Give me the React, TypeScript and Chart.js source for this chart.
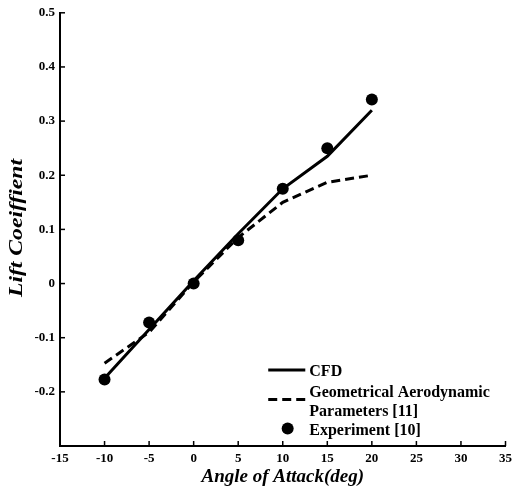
import React, { useEffect, useRef } from "react";
import { Chart, registerables } from "chart.js";
Chart.register(...registerables);

const angles = [-10, -5, 0, 5, 10, 15, 20];
const cfd = [-0.175, -0.085, 0.005, 0.092, 0.175, 0.235, 0.32];
const geometrical = [-0.147, -0.09, 0.003, 0.085, 0.15, 0.187, 0.2];
const experiment = [-0.177, -0.072, 0.0, 0.08, 0.175, 0.25, 0.34];
const xTicks = [-15, -10, -5, 0, 5, 10, 15, 20, 25, 30, 35];
const yTicks = [-0.2, -0.1, 0, 0.1, 0.2, 0.3, 0.4, 0.5];
const legendLabels = [["CFD"], ["Geometrical Aerodynamic", "Parameters [11]"], ["Experiment [10]"]];
const xTitle = "Angle of Attack(deg)";
const yTitle = "Lift Coeiffient";

const SERIF = "'Liberation Serif', 'Times New Roman', serif";

const decor = {
  id: "decor",
  afterDraw(chart: any) {
    const ctx = chart.ctx;
    const { x, y } = chart.scales;
    const area = chart.chartArea;
    ctx.save();
    ctx.strokeStyle = "#000";
    ctx.fillStyle = "#000";
    ctx.lineWidth = 1.5;
    xTicks.forEach((v) => {
      const px = x.getPixelForValue(v);
      ctx.beginPath();
      ctx.moveTo(px, area.bottom);
      ctx.lineTo(px, area.bottom - 5);
      ctx.stroke();
    });
    yTicks.forEach((v) => {
      const py = y.getPixelForValue(v);
      ctx.beginPath();
      ctx.moveTo(area.left, py);
      ctx.lineTo(area.left + 5, py);
      ctx.stroke();
    });
    // axis titles
    ctx.font = "italic bold 19px " + SERIF;
    ctx.textAlign = "center";
    ctx.textBaseline = "middle";
    ctx.fillText(xTitle, (area.left + area.right) / 2, 477);
    ctx.save();
    ctx.translate(17, 228);
    ctx.rotate(-Math.PI / 2);
    const w = ctx.measureText(yTitle).width;
    ctx.scale(138 / w, 1);
    ctx.fillText(yTitle, 0, 0);
    ctx.restore();
    // legend
    const lx0 = x.getPixelForValue(8.37);
    const lx1 = x.getPixelForValue(12.53);
    const tx = x.getPixelForValue(12.98);
    ctx.font = "bold 16px " + SERIF;
    ctx.textBaseline = "middle";
    ctx.textAlign = "left";
    ctx.lineWidth = 3;
    ctx.setLineDash([]);
    ctx.beginPath();
    ctx.moveTo(lx0, 370);
    ctx.lineTo(lx1, 370);
    ctx.stroke();
    ctx.fillText(legendLabels[0][0], tx, 372);
    ctx.setLineDash([9, 5]);
    ctx.beginPath();
    ctx.moveTo(lx0, 399.5);
    ctx.lineTo(lx1, 399.5);
    ctx.stroke();
    ctx.setLineDash([]);
    ctx.fillText(legendLabels[1][0], tx, 393);
    ctx.fillText(legendLabels[1][1], tx, 412);
    ctx.beginPath();
    ctx.arc(x.getPixelForValue(10.55), 428.5, 6, 0, Math.PI * 2);
    ctx.fill();
    ctx.fillText(legendLabels[2][0], tx, 431);
    ctx.restore();
  },
};

export default function App() {
  const ref = useRef<HTMLCanvasElement>(null);
  useEffect(() => {
    document.body.style.margin = "0";
    const chart = new Chart(ref.current!, {
      type: "line",
      data: {
        labels: angles,
        datasets: [
          {
            label: "Experiment [10]",
            data: angles.map((a, i) => ({ x: a, y: experiment[i] })),
            showLine: false,
            pointRadius: 6,
            pointBackgroundColor: "#000",
            pointBorderWidth: 0,
            borderColor: "#000",
            order: 0,
          },
          {
            label: "CFD",
            data: angles.map((a, i) => ({ x: a, y: cfd[i] })),
            borderColor: "#000",
            borderWidth: 3,
            pointRadius: 0,
            tension: 0,
            order: 1,
          },
          {
            label: "Geometrical Aerodynamic Parameters [11]",
            data: angles.map((a, i) => ({ x: a, y: geometrical[i] })),
            borderColor: "#000",
            borderWidth: 3,
            borderDash: [9, 5],
            pointRadius: 0,
            tension: 0,
            order: 2,
          },
        ],
      },
      plugins: [decor],
      options: {
        animation: false,
        responsive: false,
        layout: { padding: { top: 7, right: 7.5, left: 0, bottom: 0 } },
        plugins: { legend: { display: false }, tooltip: { enabled: false } },
        scales: {
          x: {
            type: "linear",
            min: -15,
            max: 35,
            afterBuildTicks: (s: any) => {
              s.ticks = xTicks.map((v) => ({ value: v }));
            },
            afterFit: (s: any) => {
              s.height = 45;
              s.paddingRight = 0;
              s.paddingLeft = 0;
            },
            grid: { display: false, drawTicks: false },
            border: { display: true, color: "#000", width: 2 },
            ticks: {
              color: "#000",
              padding: 5,
              font: { family: SERIF, size: 13, weight: "bold" },
              maxRotation: 0,
              autoSkip: false,
            },
          },
          y: {
            type: "linear",
            min: -0.3,
            max: 0.5,
            afterBuildTicks: (s: any) => {
              s.ticks = yTicks.map((v) => ({ value: v }));
            },
            afterFit: (s: any) => {
              s.width = 60;
            },
            grid: { display: false, drawTicks: false },
            border: { display: true, color: "#000", width: 2 },
            ticks: {
              color: "#000",
              padding: 5,
              font: { family: SERIF, size: 13, weight: "bold" },
              autoSkip: false,
              callback: (v: any) => {
                const n = Math.round(Number(v) * 10) / 10;
                return n === 0 ? "0" : String(n);
              },
            },
          },
        },
      },
    });
    return () => chart.destroy();
  }, []);
  return (
    <div style={{ width: 513, height: 491, background: "#fff" }}>
      <canvas ref={ref} width={513} height={491} />
    </div>
  );
}
